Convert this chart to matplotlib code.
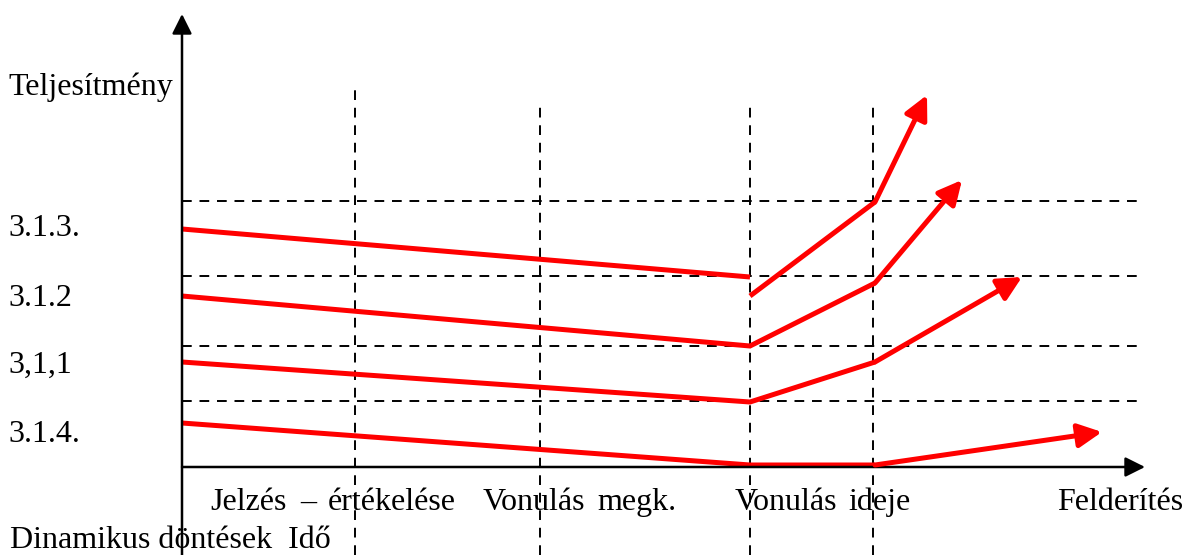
import matplotlib
matplotlib.use('Agg')
from matplotlib import pyplot as plt

# stages along the time axis (where the dashed verticals stand)
stage_x = [173, 358, 568, 691]
stage_top = [377, 367, 364, 362]
# performance levels (dashed horizontals)
level_y = [266, 191, 121, 66]
level_end = [955, 955, 955, 960]

# red performance curves: x and y points, last segment is the arrow
curve_x = [
    [0, 568],
    [568, 693, 745],
    [0, 568, 693, 780],
    [0, 568, 693, 840],
    [0, 568, 693, 920],
]
curve_y = [
    [238, 190],
    [171, 265, 372],
    [171, 121, 184, 287],
    [105, 65, 105, 190],
    [44, 2, 2, 35],
]
curve_arrow = [False, True, True, True, True]

level_labels = ['3.1.3.', '3.1.2', '3,1,1', '3.1.4.']
level_label_y = [231, 161, 94, 25]

bottom_words = ['Jelzés', '–', 'értékelése', 'Vonulás', 'megk.', 'Vonulás', 'ideje', 'Felderítés']
bottom_x = [28, 118, 146, 301, 415, 553, 666, 875]

fig = plt.figure(figsize=(11.85, 5.55), dpi=100)
ax = fig.add_axes([0, 0, 1, 1])
ax.set_xlim(-182, 1003)
ax.set_ylim(-88, 467)
ax.axis('off')

font = dict(family='Liberation Serif', size=23, color='black')

# dashed grid
for x, top in zip(stage_x, stage_top):
    ax.plot([x, x], [-88, top], color='black', lw=1.4, ls=(0, (5, 4)))
for y, end in zip(level_y, level_end):
    ax.plot([0, end], [y, y], color='black', lw=1.4, ls=(0, (5, 4)))

# axes with arrows
ax.annotate('', xy=(0, 453), xytext=(0, -88),
            arrowprops=dict(arrowstyle='-|>', color='black', lw=1.8, mutation_scale=30, shrinkA=0, shrinkB=0))
ax.annotate('', xy=(963, 0), xytext=(0, 0),
            arrowprops=dict(arrowstyle='-|>', color='black', lw=1.8, mutation_scale=30, shrinkA=0, shrinkB=0))

# red curves
for xs, ys, arr in zip(curve_x, curve_y, curve_arrow):
    if arr:
        ax.plot(xs[:-1], ys[:-1], color='red', lw=3.6, solid_capstyle='butt', solid_joinstyle='miter')
        ax.annotate('', xy=(xs[-1], ys[-1]), xytext=(xs[-2], ys[-2]),
                    arrowprops=dict(arrowstyle='-|>', color='red', lw=3.6, mutation_scale=36,
                                    shrinkA=0, shrinkB=0))
    else:
        ax.plot(xs, ys, color='red', lw=3.6, solid_capstyle='butt')

# texts
ax.text(-174, 372, 'Teljesítmény', ha='left', va='baseline', **font)
for lab, y in zip(level_labels, level_label_y):
    ax.text(-174, y, lab, ha='left', va='baseline', **font)
for w, x in zip(bottom_words, bottom_x):
    ax.text(x, -43, w, ha='left', va='baseline', **font)
ax.text(-172, -81, 'Dinamikus döntések  Idő', ha='left', va='baseline', **font)

fig.savefig('out.png', dpi=100)
